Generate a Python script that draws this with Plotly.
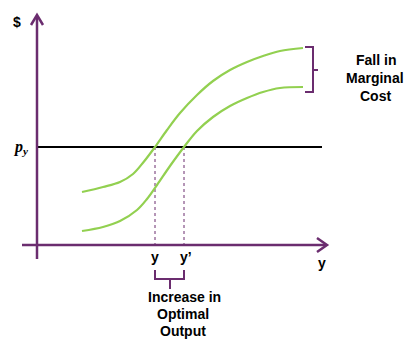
import plotly.graph_objects as go

# Marginal cost curves (chart units, y grows downward)
mc_high_x = [82, 103, 120, 133, 144, 155, 167, 180, 197, 213, 230, 247, 263, 280, 303]
mc_high_y = [192, 187, 182, 174, 161.5, 147, 130, 113, 95, 81, 70, 62, 56, 51, 48]
mc_low_x = [82, 103, 120, 137, 147, 157, 170, 184, 197, 213, 230, 247, 263, 280, 303]
mc_low_y = [231, 227, 221, 210, 199, 185, 166, 147, 131, 117, 106, 98, 92, 88, 87]
price_level = 147
output_y = 155
output_y_new = 184

# axes geometry
origin_x = 37
origin_y = 245
x_end = 327
y_top = 15

PURPLE = "#6B2D6F"
GREEN = "#92D050"

fig = go.Figure()

def seg(xs, ys, color, width, dash="solid", shape="linear"):
    fig.add_trace(go.Scatter(x=xs, y=ys, mode="lines",
                             line=dict(color=color, width=width, dash=dash, shape=shape),
                             hoverinfo="skip", showlegend=False))

# dotted drop lines
seg([output_y, output_y], [price_level, origin_y], PURPLE, 1, "dot")
seg([output_y_new, output_y_new], [price_level, origin_y], PURPLE, 1, "dot")

# price line
seg([origin_x, 322], [price_level, price_level], "black", 2)

# curves
seg(mc_high_x, mc_high_y, GREEN, 2.2, shape="spline")
seg(mc_low_x, mc_low_y, GREEN, 2.2, shape="spline")

# axes
seg([origin_x, origin_x], [259, y_top + 1], PURPLE, 2.5)
seg([origin_x - 6, origin_x, origin_x + 6], [y_top + 10, y_top, y_top + 10], PURPLE, 2.5)
seg([22, x_end - 1], [origin_y, origin_y], PURPLE, 2.5)
seg([x_end - 10, x_end, x_end - 10], [origin_y - 7, origin_y, origin_y + 7], PURPLE, 2.5)

# bottom bracket
seg([output_y, output_y, output_y_new, output_y_new], [270, 279, 279, 270], PURPLE, 2)
seg([170, 170], [279, 289], PURPLE, 2)

# right bracket
seg([305, 313, 313, 305], [47, 47, 92, 92], PURPLE, 2)
seg([313, 318], [70, 70], PURPLE, 2)

font_b = dict(family="Liberation Sans, Arial, sans-serif", size=14, color="black")
ann = []
def txt(x, y, t, size=14, family=None):
    f = dict(font_b)
    f["size"] = size
    if family:
        f["family"] = family
    ann.append(dict(x=x, y=y, text=t, showarrow=False, font=f, xanchor="center", yanchor="middle"))

txt(17, 22, "<b>$</b>", 14)
txt(20, 147, "<b><i>p</i></b><sub><b><i>y</i></b></sub>", 16, "Liberation Serif, DejaVu Serif, serif")
txt(output_y, 257, "<b>y</b>", 14)
txt(output_y_new + 2, 257, "<b>y’</b>", 14)
txt(322, 263, "<b>y</b>", 14)
txt(184, 297, "<b>Increase in</b>")
txt(183, 314, "<b>Optimal</b>")
txt(183, 331, "<b>Output</b>")
txt(376, 60, "<b>Fall in</b>")
txt(375, 78, "<b>Marginal</b>")
txt(375, 96, "<b>Cost</b>")

fig.update_layout(
    width=409, height=339,
    margin=dict(l=0, r=0, t=0, b=0),
    paper_bgcolor="white", plot_bgcolor="white",
    xaxis=dict(range=[0, 409], visible=False, fixedrange=True),
    yaxis=dict(range=[339, 0], visible=False, fixedrange=True),
    annotations=ann,
    showlegend=False,
)

fig.write_html("out.html", config={"displayModeBar": False},
               post_script="document.body.style.margin='0';document.body.style.padding='0';")
